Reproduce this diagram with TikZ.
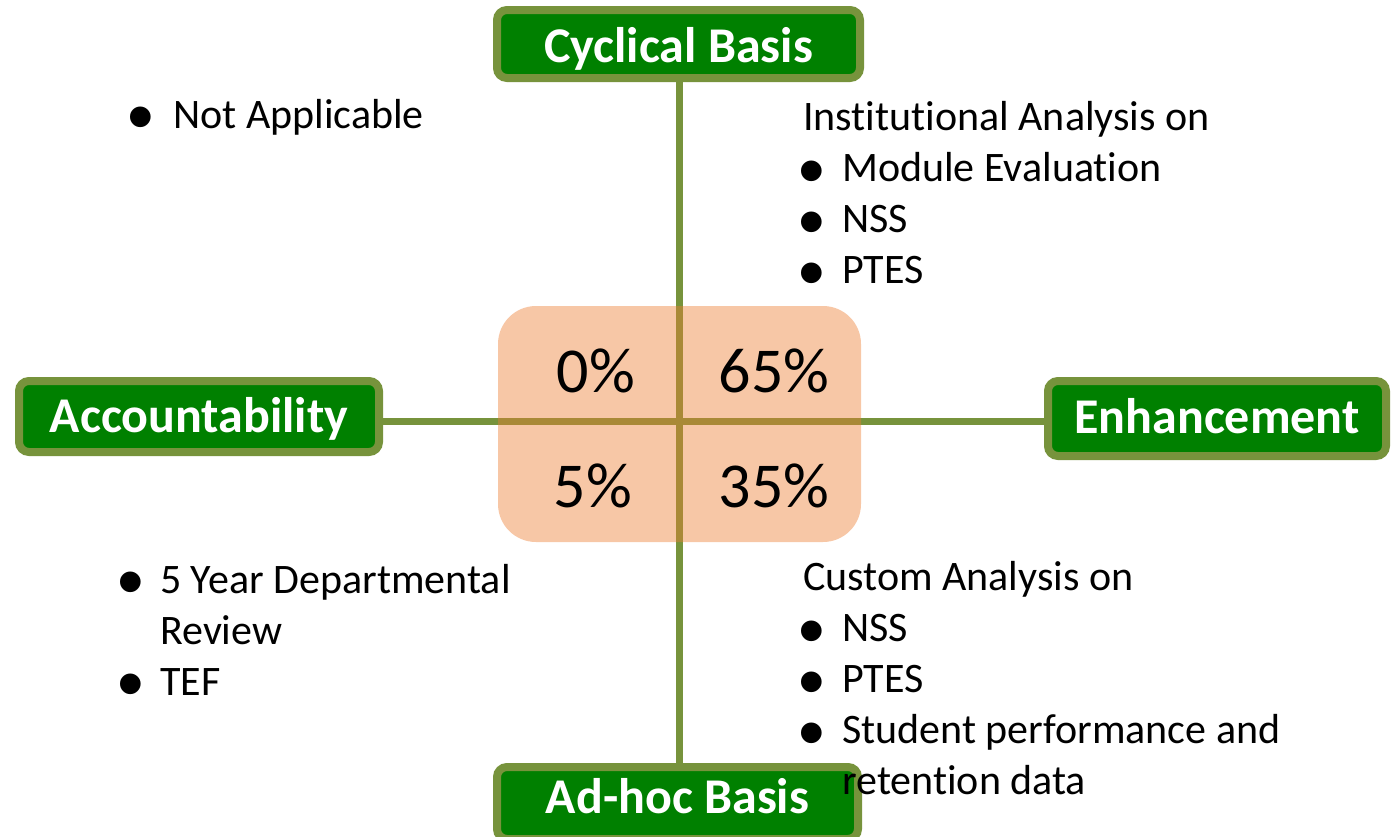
\documentclass[tikz,border=0pt]{standalone}
\usepackage{fontspec}
\setmainfont{Carlito}[Ligatures=NoCommon]
\newfontfamily\bulletfont{Liberation Sans}
\definecolor{olivebd}{RGB}{119,147,60}
\definecolor{boxgreen}{RGB}{0,128,0}
\definecolor{peach}{RGB}{237,125,49}
\tikzset{
  catbox/.style={draw=olivebd, line width=8pt, fill=boxgreen, rounded corners=10pt,
    inner sep=0pt, text=white, text depth=0pt, font=\fontsize{50}{60}\selectfont\bfseries},
  axisline/.style={draw=olivebd, line width=7pt},
  bodytext/.style={anchor=base west, inner sep=0pt, font=\fontsize{42}{51}\selectfont},
  bul/.style={anchor=base, inner sep=0pt, text height=18pt, text depth=0pt, font=\fontsize{76}{80}\bulletfont},
  pct/.style={anchor=base, inner sep=0pt, font=\fontsize{64}{76}\selectfont}
}
\begin{document}
\begin{tikzpicture}[x=1pt,y=-1pt]
\useasboundingbox (0,0) rectangle (1392,836);
% category boxes
\node[catbox, minimum width=363pt, minimum height=68pt, text height=36pt] (cyc) at (678.5,44) {Cyclical Basis};
\node[catbox, minimum width=360pt, minimum height=71pt, text height=31pt] (acc) at (199,416.5) {Accountability};
\node[catbox, minimum width=338pt, minimum height=75pt, text height=29pt] (enh) at (1217,418.5) {Enhancement};
\node[catbox, minimum width=361pt, minimum height=72pt, text height=20pt] (adh) at (677.5,803) {Ad-hoc Basis};
% axes
\coordinate (hc) at (679,421);
\draw[axisline] (cyc.south -| hc) -- (adh.north -| hc);
\draw[axisline] (acc.east |- hc) -- (enh.west |- hc);
% central panel
\node[fill=peach, fill opacity=0.43, rounded corners=38pt, minimum width=363pt, minimum height=236pt, inner sep=0pt] (mid) at (679.5,424) {};
\node[pct] (p1) at (596,392) {0\%};
\node[pct] (p2) at (774,392) {65\%};
\node[pct] (p3) at (593,507) {5\%};
\node[pct] (p4) at (774,507) {35\%};
% top left
\node[bul] (b1) at (141,142) {•};
\node[bodytext] (t1) at (173,128) {Not Applicable};
% top right
\node[bodytext] (t2) at (803,130) {Institutional Analysis on};
\node[bul] (b2) at (811.5,196) {•};
\node[bodytext] (t3) at (842,181) {Module Evaluation};
\node[bul] (b3) at (811.5,247) {•};
\node[bodytext] (t4) at (842,232) {NSS};
\node[bul] (b4) at (811.5,298) {•};
\node[bodytext] (t5) at (842,283) {PTES};
% bottom left
\node[bul] (b5) at (131,607) {•};
\node[bodytext] (t6) at (160,593) {5 Year Departmental};
\node[bodytext] (t7) at (160,644) {Review};
\node[bul] (b6) at (131,709) {•};
\node[bodytext] (t8) at (160,695) {TEF};
% bottom right
\node[bodytext] (t9) at (803,590) {Custom Analysis on};
\node[bul] (b7) at (811.5,656) {•};
\node[bodytext] (t10) at (842,641) {NSS};
\node[bul] (b8) at (811.5,707) {•};
\node[bodytext] (t11) at (842,692) {PTES};
\node[bul] (b9) at (811.5,758) {•};
\node[bodytext] (t12) at (842,743) {Student performance and};
\node[bodytext] (t13) at (842,794) {retention data};
\end{tikzpicture}
\end{document}
